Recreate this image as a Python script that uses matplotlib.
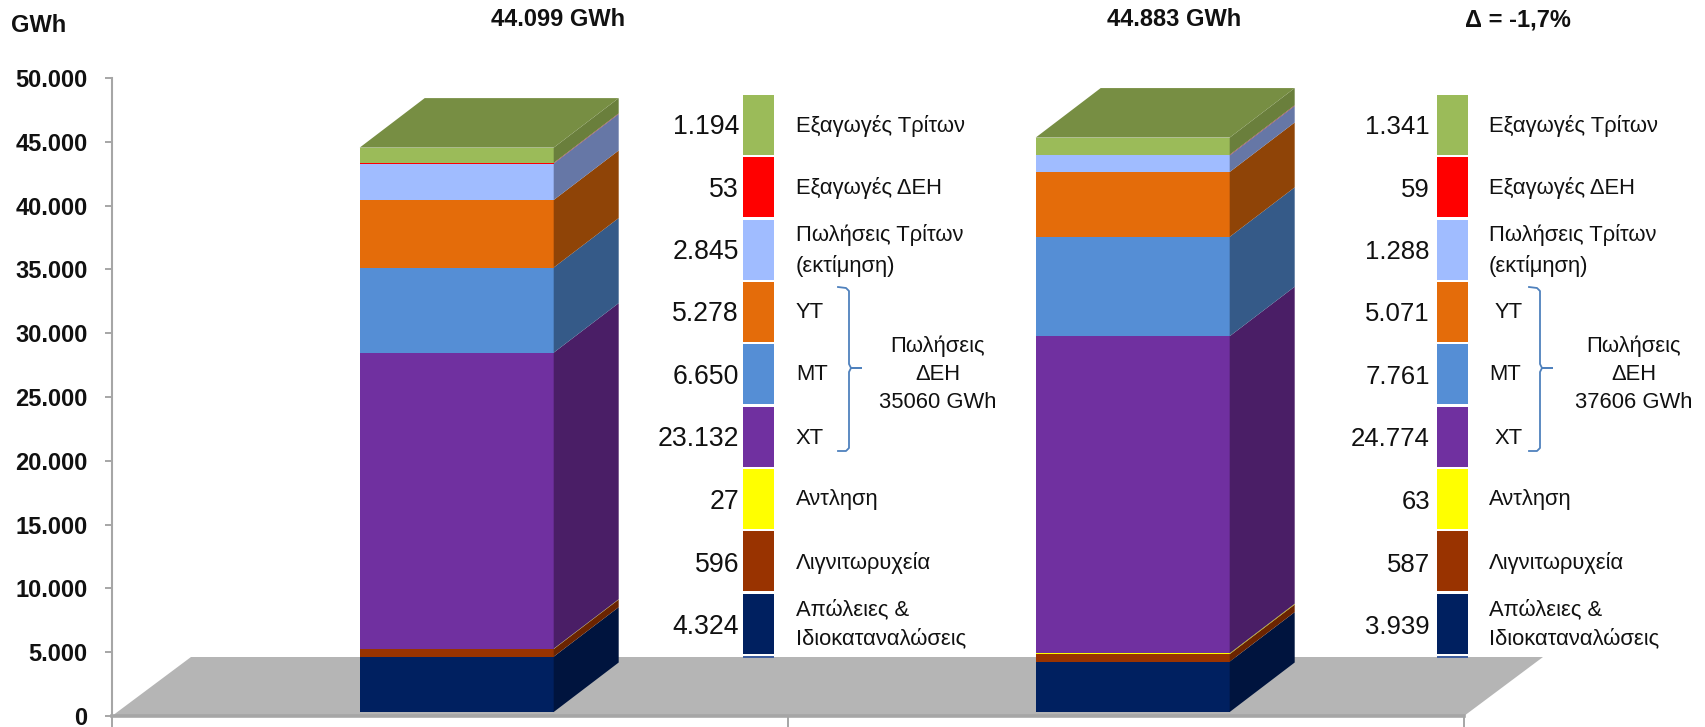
import matplotlib
matplotlib.use("Agg")
from matplotlib import pyplot as plt

W, H = 1706, 727
plt.rcParams["font.family"] = ["Liberation Sans", "DejaVu Sans"]

# stacked from the bottom up
segment_names = ["Απώλειες & Ιδιοκαταναλώσεις", "Λιγνιτωρυχεία", "Αντληση", "ΧΤ", "ΜΤ", "ΥΤ",
                 "Πωλήσεις Τρίτων (εκτίμηση)", "Εξαγωγές ΔΕΗ", "Εξαγωγές Τρίτων"]
values_left = [4324, 596, 27, 23132, 6650, 5278, 2845, 53, 1194]
values_right = [3939, 587, 63, 24774, 7761, 5071, 1288, 59, 1341]
labels_left = ["4.324", "596", "27", "23.132", "6.650", "5.278", "2.845", "53", "1.194"]
labels_right = ["3.939", "587", "63", "24.774", "7.761", "5.071", "1.288", "59", "1.341"]
yticks = [0, 5000, 10000, 15000, 20000, 25000, 30000, 35000, 40000, 45000, 50000]
yticklabels = ["0", "5.000", "10.000", "15.000", "20.000", "25.000", "30.000", "35.000", "40.000",
               "45.000", "50.000"]

front_colors = ["#002060", "#993300", "#ffff00", "#7030a0", "#558ed5", "#e46c0a", "#a0bcff", "#ff0000", "#9bbb59"]
swatch_colors = front_colors
side_colors = ["#00143e", "#6b2400", "#b0b000", "#4a1e66", "#355a88", "#8f4407", "#6677a6", "#a03040", "#6a7f3c"]
top_color = "#778e43"
floor_color = "#b5b5b5"
axis_color = "#a6a6a6"
brace_color = "#4f81bd"

fig = plt.figure(figsize=(W / 100, H / 100), dpi=100)
ax = fig.add_axes([112 / W, (H - 716) / H, 1352 / W, 638 / H])
ax.set_xlim(-0.5, 1.5)
ax.set_ylim(0, 50000)
ax.patch.set_visible(False)

px_x = 2 / 1352
px_y = 50000 / 638

# floor of the 3d chart
ax.fill([-0.5, -0.5 + 79 * px_x, 1.5 + 79 * px_x, 1.5], [0, 59 * px_y, 59 * px_y, 0],
        color=floor_color, lw=0, clip_on=False, zorder=1)

bar_width = 194 * px_x
depth_x = 65 * px_x
depth_y = 49.5 * px_y
base = 4 * px_y
front_shift = 6.7 * px_x
front_scale = 1.003

for pos, values in enumerate([values_left, values_right]):
    left = pos + front_shift - bar_width / 2
    right = left + bar_width
    y = base
    for value, front, side in zip(values, front_colors, side_colors):
        height = value * front_scale
        ax.bar(left, height, width=bar_width, bottom=y, align="edge", color=front, lw=0, zorder=3)
        ax.fill([right, right + depth_x, right + depth_x, right],
                [y, y + depth_y, y + height + depth_y, y + height], color=side, lw=0, zorder=3)
        y += height
    ax.fill([left, left + depth_x, right + depth_x, right], [y, y + depth_y, y + depth_y, y],
            color=top_color, lw=0, zorder=3)

for name in ["top", "right"]:
    ax.spines[name].set_visible(False)
ax.spines["left"].set_color(axis_color)
ax.spines["left"].set_linewidth(1.5)
ax.spines["bottom"].set_color(axis_color)
ax.spines["bottom"].set_linewidth(2.6)
ax.spines["left"].set_zorder(2)
ax.spines["bottom"].set_zorder(2)
ax.set_yticks(yticks)
ax.set_yticklabels(yticklabels, fontsize=17, fontweight="bold", color="#111111")
ax.set_xticks([-0.5, 0.5, 1.5])
ax.set_xticklabels(["", "", ""])
ax.tick_params(axis="y", length=5, width=1.4, color=axis_color, pad=12.5)
ax.tick_params(axis="x", length=8, width=1.4, color=axis_color)

# overlay in picture pixels for the keys and the notes
ov = fig.add_axes([0, 0, 1, 1], zorder=5)
ov.set_xlim(0, W)
ov.set_ylim(H, 0)
ov.axis("off")

ov.text(39, 26, "GWh", fontsize=17, fontweight="bold", ha="center", va="center", color="#111111")
ov.text(558, 20, "44.099 GWh", fontsize=17, fontweight="bold", ha="center", va="center", color="#111111")
ov.text(1174, 20, "44.883 GWh", fontsize=17, fontweight="bold", ha="center", va="center", color="#111111")
ov.text(1518, 20, "Δ = -1,7%", fontsize=17, fontweight="bold", ha="center", va="center", color="#111111")

swatch_top = [594, 531, 469, 407, 344, 282, 220, 157, 95]
value_y = [625, 563, 500, 437, 375, 312, 250, 188, 125]
key_text = [("Απώλειες &", 609), ("Ιδιοκαταναλώσεις", 638), ("Λιγνιτωρυχεία", 562), ("Αντληση", 499),
            ("Πωλήσεις Τρίτων", 234), ("(εκτίμηση)", 265), ("Εξαγωγές ΔΕΗ", 187), ("Εξαγωγές Τρίτων", 125)]
level_text = [("ΧΤ", 437), ("ΜΤ", 374), ("ΥΤ", 312)]


def draw_key(swatch_x, swatch_w, value_x, value_size, text_x, level_x, brace_x, note_x, labels, note):
    for top, color in zip(swatch_top, swatch_colors):
        ov.add_patch(plt.Rectangle((swatch_x, top), swatch_w, 60, color=color, lw=0))
    ov.add_patch(plt.Rectangle((swatch_x, 656), swatch_w, 1.5, color="#3f5f9f", lw=0))
    for label, y in zip(labels, value_y):
        ov.text(value_x, y + 2, label, fontsize=value_size, ha="right", va="center", color="#111111")
    for label, y in key_text:
        ov.text(text_x, y + 1, label, fontsize=15.8, ha="left", va="center", color="#111111")
    for (label, y), x in zip(level_text, level_x):
        ov.text(x, y + 1, label, fontsize=15.8, ha="left", va="center", color="#111111")
    bx = [brace_x - 11, brace_x - 3, brace_x, brace_x, brace_x + 2, brace_x + 12, brace_x + 2, brace_x, brace_x,
          brace_x - 3, brace_x - 11]
    by = [287, 288, 291, 364, 368, 368, 368, 372, 448, 451, 451]
    ov.plot(bx, by, color=brace_color, lw=1.3)
    for line, y in zip(["Πωλήσεις", "ΔΕΗ", note], [346, 374, 403]):
        ov.text(note_x, y, line, fontsize=15.8, ha="center", va="center", color="#111111")


draw_key(743, 31, 739, 19.2, 796, [796, 796, 796], 849, 938, labels_left, "35060 GWh")
draw_key(1437, 31, 1430, 18.5, 1489, [1495, 1489, 1495], 1540, 1634, labels_right, "37606 GWh")

plt.savefig("out.png", dpi=100)
plt.close()
